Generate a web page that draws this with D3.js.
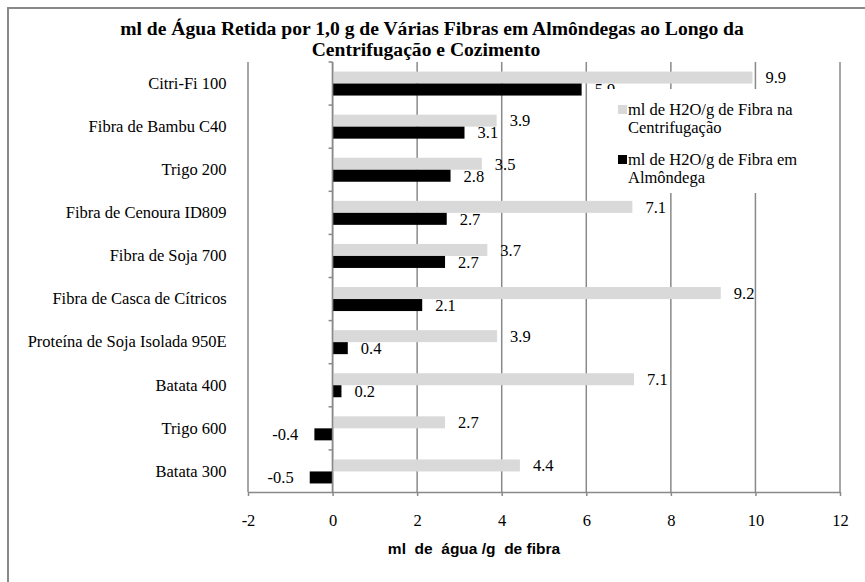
<!DOCTYPE html>
<html><head><meta charset="utf-8">
<script src="https://cdn.jsdelivr.net/npm/d3@7"></script>
<style>
html,body{margin:0;padding:0;background:#fff;}
svg{display:block;}
</style></head>
<body>
<svg id="chart" width="865" height="582"></svg>
<script>
const categories = ["Citri-Fi 100","Fibra de Bambu C40","Trigo 200","Fibra de Cenoura ID809","Fibra de Soja 700","Fibra de Casca de Cítricos","Proteína de Soja Isolada 950E","Batata 400","Trigo 600","Batata 300"];
const centrifugacao = [9.93,3.88,3.53,7.09,3.66,9.18,3.89,7.13,2.66,4.43];
const almondega = [5.89,3.12,2.79,2.70,2.66,2.12,0.36,0.21,-0.43,-0.54];
const seriesNames = ["ml de H2O/g de Fibra na Centrifugação","ml de H2O/g de Fibra em Almôndega"];
const xTicks = [-2,0,2,4,6,8,10,12];
const titleLines = ["ml de Água Retida por 1,0 g de Várias Fibras em Almôndegas ao Longo da","Centrifugação e Cozimento"];
const xAxisTitle = "ml  de  água /g  de fibra";

const svg = d3.select("#chart");
const serif = "'Liberation Serif', 'DejaVu Serif', serif";
const gridColor = "#898989";
const colors = ["#d9d9d9","#000000"];
const fs = 16.5;
const hy = s => s.replace("\u2212","-");

// outer border
svg.append("rect").attr("x",8).attr("y",8).attr("width",880).attr("height",600)
  .attr("fill","#fff").attr("stroke",gridColor).attr("stroke-width",2);

const x = d3.scaleLinear().domain([-2,12]).range([248,840]);
const y = d3.scaleBand().domain(categories).range([62,493]);
const ySub = d3.scaleBand().domain([0,1]).range([0,y.bandwidth()]).paddingOuter(0.796);

// gridlines
svg.append("g").selectAll("line").data(xTicks).join("line")
  .attr("x1",d=>x(d)).attr("x2",d=>x(d)).attr("y1",62).attr("y2",492)
  .attr("stroke",gridColor).attr("stroke-width",1.5);

// x axis
const xAxis = svg.append("g").attr("transform","translate(0,492)")
  .call(d3.axisBottom(x).tickValues(xTicks).tickSize(4).tickPadding(18).tickSizeOuter(0).tickFormat(d=>hy(d3.format("d")(d))));
xAxis.select(".domain").attr("stroke",gridColor).attr("stroke-width",1.5);
xAxis.selectAll(".tick line").attr("stroke",gridColor).attr("stroke-width",1.5);
xAxis.selectAll("text").attr("font-family",serif).attr("font-size",fs).attr("fill","#000");

// bars
const rows = categories.map((c,i)=>({c, v:[centrifugacao[i], almondega[i]]}));
const g = svg.append("g");
rows.forEach(r=>{
  r.v.forEach((v,s)=>{
    g.append("rect")
      .attr("x", x(Math.min(0,v))).attr("width", Math.abs(x(v)-x(0)))
      .attr("y", y(r.c)+ySub(s)).attr("height", ySub.bandwidth())
      .attr("fill", colors[s]);
  });
});

// y axis line and ticks
svg.append("line").attr("x1",x(0)).attr("x2",x(0)).attr("y1",62).attr("y2",492)
  .attr("stroke",gridColor).attr("stroke-width",1.5);
svg.append("g").selectAll("line").data(categories).join("line")
  .attr("x1",x(0)-4).attr("x2",x(0)).attr("y1",d=>y(d)).attr("y2",d=>y(d))
  .attr("stroke",gridColor).attr("stroke-width",1.5);

const yAxis = svg.append("g").attr("transform",`translate(${x(0)},0)`)
  .call(d3.axisLeft(y).tickSize(0).tickPadding(106));
yAxis.select(".domain").remove();
yAxis.selectAll("text").attr("font-family",serif).attr("font-size",fs).attr("fill","#000");

// data labels
const fmt = v => hy(d3.format(".1f")(v));
rows.forEach(r=>{
  r.v.forEach((v,s)=>{
    const yc = y(r.c)+ySub(s)+ySub.bandwidth()/2;
    svg.append("text")
      .attr("x", v>=0 ? x(v)+13 : x(v)-16)
      .attr("y", yc).attr("dy","0.35em")
      .attr("text-anchor", v>=0 ? "start" : "end")
      .attr("font-family",serif).attr("font-size",fs).attr("fill","#000")
      .text(fmt(v));
  });
});

// legend
const lg = svg.append("g");
lg.append("rect").attr("x",594).attr("y",89).attr("width",218).attr("height",104).attr("fill","#fff");
const legendItems = [
  {color:colors[0], lines:["ml de H2O/g de Fibra na","Centrifugação"], y:109},
  {color:colors[1], lines:["ml de H2O/g de Fibra em","Almôndega"], y:159}
];
legendItems.forEach(it=>{
  lg.append("rect").attr("x",618).attr("y",it.y-4).attr("width",9).attr("height",9).attr("fill",it.color);
  it.lines.forEach((t,k)=>{
    lg.append("text").attr("x",628).attr("y",it.y+k*18).attr("dy","0.35em")
      .attr("font-family",serif).attr("font-size",fs).attr("fill","#000").text(t);
  });
});

// title
titleLines.forEach((t,k)=>{
  svg.append("text").attr("x", k===0 ? 432 : 426).attr("y", 35+k*21)
    .attr("text-anchor","middle").attr("font-family",serif).attr("font-weight","bold")
    .attr("font-size",19.6).attr("fill","#000").text(t);
});

// axis title
svg.append("text").attr("x",474).attr("y",554).attr("text-anchor","middle")
  .attr("font-family","'Liberation Sans', Arial, sans-serif").attr("font-weight","bold")
  .attr("font-size",15.5).attr("fill","#000").style("white-space","pre").text(xAxisTitle);
</script>
</body></html>
